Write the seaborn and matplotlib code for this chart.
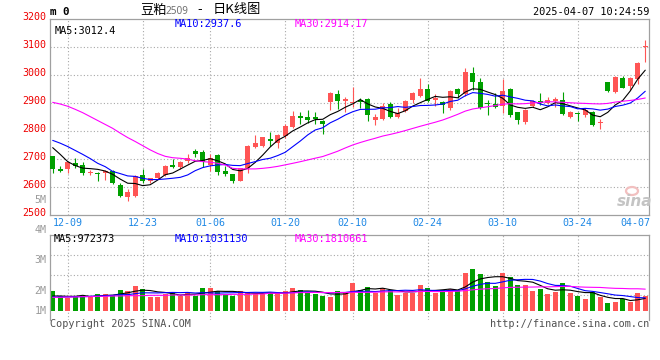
import numpy as np
import pandas as pd
import matplotlib
matplotlib.use("Agg")
import matplotlib.pyplot as plt
import seaborn as sns
from matplotlib.transforms import ScaledTranslation
from matplotlib.patches import Ellipse

W, H = 660, 360

# ---------------- data ----------------
open_ = [2710, 2663, 2664, 2685, 2677, 2650, 2650, 2650, 2656, 2606,
         2562, 2567, 2642, 2618, 2630, 2642, 2677, 2671, 2692, 2727,
         2723, 2677, 2713, 2654, 2644, 2618, 2668, 2743, 2745, 2770,
         2754, 2779, 2814, 2852, 2849, 2849, 2835, 2901, 2931, 2907,
         2900, 2908, 2913, 2838, 2842, 2895, 2849, 2870, 2909, 2923,
         2948, 2910, 2901, 2882, 2949, 2930, 3007, 2975, 2900, 2894,
         2888, 2948, 2865, 2829, 2889, 2906, 2900, 2906, 2908, 2850,
         2864, 2856, 2865, 2826, 2973, 2939, 2987, 2961, 2985, 3099]
high = [2710, 2673, 2689, 2701, 2688, 2660, 2653, 2660, 2660, 2612,
        2592, 2642, 2663, 2632, 2653, 2677, 2699, 2692, 2717, 2735,
        2731, 2717, 2717, 2674, 2646, 2668, 2749, 2784, 2778, 2794,
        2789, 2823, 2870, 2865, 2873, 2865, 2838, 2939, 2945, 2921,
        2956, 2918, 2915, 2858, 2900, 2903, 2880, 2910, 2937, 2989,
        2965, 2930, 2906, 2945, 2951, 3023, 3029, 2989, 2909, 2933,
        2984, 2951, 2868, 2877, 2911, 2933, 2920, 2921, 2937, 2870,
        2865, 2882, 2870, 2842, 2975, 2996, 2994, 2992, 3046, 3124]
low = [2648, 2651, 2650, 2665, 2643, 2642, 2620, 2622, 2610, 2564,
       2550, 2564, 2614, 2612, 2627, 2636, 2668, 2663, 2683, 2707,
       2671, 2654, 2642, 2639, 2614, 2618, 2648, 2737, 2743, 2746,
       2737, 2773, 2811, 2823, 2826, 2825, 2787, 2874, 2877, 2865,
       2886, 2882, 2835, 2820, 2838, 2846, 2846, 2865, 2898, 2920,
       2903, 2887, 2863, 2874, 2915, 2924, 2945, 2877, 2856, 2882,
       2864, 2850, 2823, 2823, 2886, 2892, 2894, 2886, 2856, 2846,
       2835, 2850, 2818, 2806, 2939, 2936, 2951, 2944, 2968, 3046]
close = [2662, 2657, 2686, 2674, 2650, 2653, 2644, 2656, 2614, 2566,
         2579, 2639, 2618, 2630, 2650, 2674, 2670, 2688, 2701, 2718,
         2689, 2701, 2651, 2646, 2618, 2665, 2745, 2757, 2777, 2763,
         2784, 2818, 2852, 2846, 2838, 2842, 2824, 2934, 2904, 2913,
         2903, 2901, 2856, 2849, 2888, 2849, 2862, 2906, 2933, 2949,
         2907, 2916, 2890, 2942, 2931, 3009, 2975, 2880, 2894, 2886,
         2942, 2856, 2838, 2875, 2906, 2898, 2908, 2913, 2858, 2865,
         2860, 2873, 2820, 2830, 2943, 2992, 2954, 2989, 3042, 3103]
volume = [1590000, 1193000, 1060000, 1193000, 1193000, 1113000, 1352000, 1352000, 1272000, 1670000,
          1590000, 1988000, 1749000, 1140000, 1140000, 1352000, 1511000, 1193000, 1431000, 1193000,
          1829000, 1829000, 1590000, 1352000, 1193000, 1590000, 1511000, 1352000, 1352000, 1431000,
          1431000, 1590000, 1829000, 1670000, 1431000, 1352000, 1193000, 1140000, 1590000, 1511000,
          2226000, 1670000, 1908000, 1431000, 1829000, 1643000, 1272000, 1431000, 1431000, 2067000,
          1829000, 1431000, 1670000, 1749000, 1670000, 3021000, 3366000, 2942000, 2306000, 1988000,
          3021000, 2703000, 2067000, 2067000, 1590000, 1749000, 1352000, 1511000, 2226000, 1431000,
          1193000, 954000, 1511000, 1140000, 636000, 716000, 954000, 716000, 1431000, 1193000]

# moving-average values visible at the left edge (their windows start before the chart)
ma5_head = [2739, 2715, 2689, 2675]
ma10_head = [2765, 2755, 2743, 2729, 2715, 2700, 2683, 2671, 2654]
ma30_head = [2901, 2895, 2887, 2876, 2864, 2850, 2836, 2822, 2808, 2791,
             2775, 2761, 2746, 2731, 2718, 2708, 2703, 2701, 2698, 2692,
             2689, 2687, 2683, 2677, 2665, 2663, 2663, 2663, 2665]
vma5_head = [1193000, 1193000, 1166000, 1166000]
vma10_head = [1113000, 1113000, 1113000, 1140000, 1140000, 1166000, 1193000, 1219000, 1246000]
vma30_head = [1087000, 1087000, 1113000, 1113000, 1140000, 1140000, 1166000, 1166000, 1193000, 1193000,
              1219000, 1219000, 1219000, 1246000, 1246000, 1246000, 1272000, 1272000, 1272000, 1272000,
              1299000, 1299000, 1299000, 1299000, 1325000, 1325000, 1325000, 1352000, 1352000]

date_labels = ["12-09", "12-23", "01-06", "01-20", "02-10", "02-24", "03-10", "03-24", "04-07"]
date_idx = [2, 12, 21, 31, 40, 50, 60, 70, 79]
price_ticks = [2500, 2600, 2700, 2800, 2900, 3000, 3100, 3200]
vol_grid = [1272000, 2862000, 4452000]

# ---------------- styling ----------------
RED = "#ff5555"
GREEN = "#00a000"
GRID = "#a8a8a8"
FRAME = "#a0a0a0"
MONO = "DejaVu Sans Mono"

sns.set_theme(style="white")
plt.rcParams["font.family"] = ["DejaVu Sans", "Noto Sans CJK SC"]

n = len(close)
idx = np.arange(n)
o = np.array(open_, float)
c = np.array(close, float)
up = c >= o
colors = np.where(up, RED, GREEN)


def moving_average(values, window, head):
    s = pd.Series(values, dtype=float).rolling(window).mean()
    s.iloc[: len(head)] = head
    return s.values


ma = pd.DataFrame({
    "idx": np.tile(idx, 3),
    "value": np.concatenate([moving_average(close, 5, ma5_head),
                             moving_average(close, 10, ma10_head),
                             moving_average(close, 30, ma30_head)]),
    "line": ["MA5"] * n + ["MA10"] * n + ["MA30"] * n,
})
vma = pd.DataFrame({
    "idx": np.tile(idx, 3),
    "value": np.concatenate([moving_average(volume, 5, vma5_head),
                             moving_average(volume, 10, vma10_head),
                             moving_average(volume, 30, vma30_head)]),
    "line": ["MA5"] * n + ["MA10"] * n + ["MA30"] * n,
})
pal = {"MA5": "#000000", "MA10": "#0000ff", "MA30": "#ff00ff"}

fig = plt.figure(figsize=(W / 100, H / 100), dpi=100)
fig.patch.set_facecolor("white")


def rect(x0, y0, x1, y1):
    return [x0 / W, 1 - y1 / H, (x1 - x0) / W, (y1 - y0) / H]


def px(x, y):
    return x / W, 1 - y / H


XLIM = (-0.36, 79.5)

# ---------------- price panel ----------------
ax = fig.add_axes(rect(50, 18.7, 649, 214.5))
ax.set_xlim(*XLIM)
ax.set_ylim(2500, 3200)
for p in price_ticks[1:-1]:
    ax.axhline(p, color=GRID, lw=0.8, ls=(0, (1, 2)), zorder=0)
for d in date_idx[:-1]:
    ax.axvline(d, color=GRID, lw=0.8, ls=(0, (1, 2)), zorder=0)

ax.vlines(idx, low, high, colors=colors, lw=0.8, zorder=2)
body_lo = np.minimum(o, c)
body_h = np.maximum(np.abs(c - o), 3.0)
ax.bar(idx, body_h, bottom=body_lo, width=0.7, color=colors, lw=0, zorder=3)

sns.lineplot(data=ma, x="idx", y="value", hue="line", palette=pal,
             lw=0.8, legend=False, ax=ax, zorder=4)
ax.set_xlabel("")
ax.set_ylabel("")

for s in ax.spines.values():
    s.set_color(FRAME)
    s.set_linewidth(0.9)

ax.set_yticks(price_ticks)
ax.set_yticklabels([str(p) for p in price_ticks], color="#ee0000",
                   fontsize=7.2, family=MONO)
ax.tick_params(axis="y", length=0, pad=3)
for lab in ax.get_yticklabels():
    lab.set_transform(lab.get_transform() + ScaledTranslation(0, 2.3 / 100, fig.dpi_scale_trans))

ax.set_xticks(date_idx)
ax.set_xticklabels(date_labels, color="#1e88e5", fontsize=7.2, family=MONO)
ax.tick_params(axis="x", length=0, pad=2.5)
last = ax.get_xticklabels()[-1]
last.set_ha("right")
last.set_transform(last.get_transform() + ScaledTranslation(4.8 / 100, 0, fig.dpi_scale_trans))

ax.text(0.007, 0.965, "MA5:3012.4", transform=ax.transAxes, color="black",
        fontsize=7.4, family=MONO, va="top", ha="left")
fig.text(*px(175, 24), "MA10:2937.6", color="#0000ff", fontsize=7.4, family=MONO, va="center")
fig.text(*px(295, 24), "MA30:2914.17", color="#ff00ff", fontsize=7.4, family=MONO, va="center")

# sina watermark
fig.patches.append(Ellipse(px(632, 191), 12 / W, 8 / H, transform=fig.transFigure,
                           facecolor="none", edgecolor="#f2c0c0", lw=1.6))
fig.text(*px(635, 201), "sina", color="#c4c4c4", fontsize=11, fontstyle="italic",
         fontweight="bold", ha="center", va="center", family="DejaVu Sans")

# ---------------- volume panel ----------------
axv = fig.add_axes(rect(50, 234.5, 649, 320))
vdf = pd.DataFrame({"idx": idx, "volume": volume,
                    "dir": np.where(up, "up", "down")})
sns.barplot(data=vdf, x="idx", y="volume", hue="dir",
            palette={"up": RED, "down": GREEN}, dodge=False, native_scale=True,
            width=0.7, saturation=1, errorbar=None, legend=False, lw=0, ax=axv, zorder=2)
sns.lineplot(data=vma, x="idx", y="value", hue="line", palette=pal,
             lw=0.8, legend=False, ax=axv, zorder=4)
axv.set_xlim(*XLIM)
axv.set_ylim(-715000, 6080000)
for g in vol_grid:
    axv.axhline(g, color=GRID, lw=0.8, ls=(0, (1, 2)), zorder=0)
for d in date_idx[:-1]:
    axv.axvline(d, color=GRID, lw=0.8, ls=(0, (1, 2)), zorder=0)
axv.set_xticks([])
axv.set_yticks([])
axv.set_xlabel("")
axv.set_ylabel("")
for name, s in axv.spines.items():
    s.set_color(FRAME)
    s.set_linewidth(0.9)
axv.spines["bottom"].set_visible(False)

fig.text(*px(54, 238.7), "MA5:972373", color="black", fontsize=7.4, family=MONO, va="center")
fig.text(*px(175, 238.7), "MA10:1031130", color="#0000ff", fontsize=7.4, family=MONO, va="center")
fig.text(*px(295, 238.7), "MA30:1810661", color="#ff00ff", fontsize=7.4, family=MONO, va="center")

for lab, y in [("5M", 200), ("4M", 230), ("3M", 260), ("2M", 291), ("1M", 311)]:
    fig.text(*px(46.5, y), lab, color="#9a9a9a", fontsize=7.2, family=MONO,
             ha="right", va="center")

# ---------------- header / footer texts ----------------
fig.text(*px(50.5, 12), "m 0", color="black", fontsize=7.8, family=MONO,
         fontweight="bold", va="center", ha="left")
fig.text(*px(140, 10), "豆粕", color="black", fontsize=9.5,
         family=["Noto Sans CJK SC"], va="center", ha="left")
fig.text(*px(166, 11), "2509", color="#707070", fontsize=7.2,
         family=["Noto Sans"], va="center", ha="left")
fig.text(*px(200, 10), "-", color="black", fontsize=9.5,
         family=["Noto Sans CJK SC"], va="center", ha="center")
fig.text(*px(212.5, 10), "日K线图", color="black", fontsize=9.5,
         family=["Noto Sans CJK SC"], va="center", ha="left")
fig.text(*px(649, 12.3), "2025-04-07 10:24:59", color="black", fontsize=7.4,
         family=MONO, va="center", ha="right")

fig.text(*px(50, 324), "Copyright 2025 SINA.COM", color="#505050", fontsize=7.3,
         family=MONO, va="center", ha="left")
fig.text(*px(649, 324), "http://finance.sina.com.cn", color="#505050", fontsize=7.3,
         family=MONO, va="center", ha="right")

fig.savefig("out.png", dpi=100, facecolor="white")
